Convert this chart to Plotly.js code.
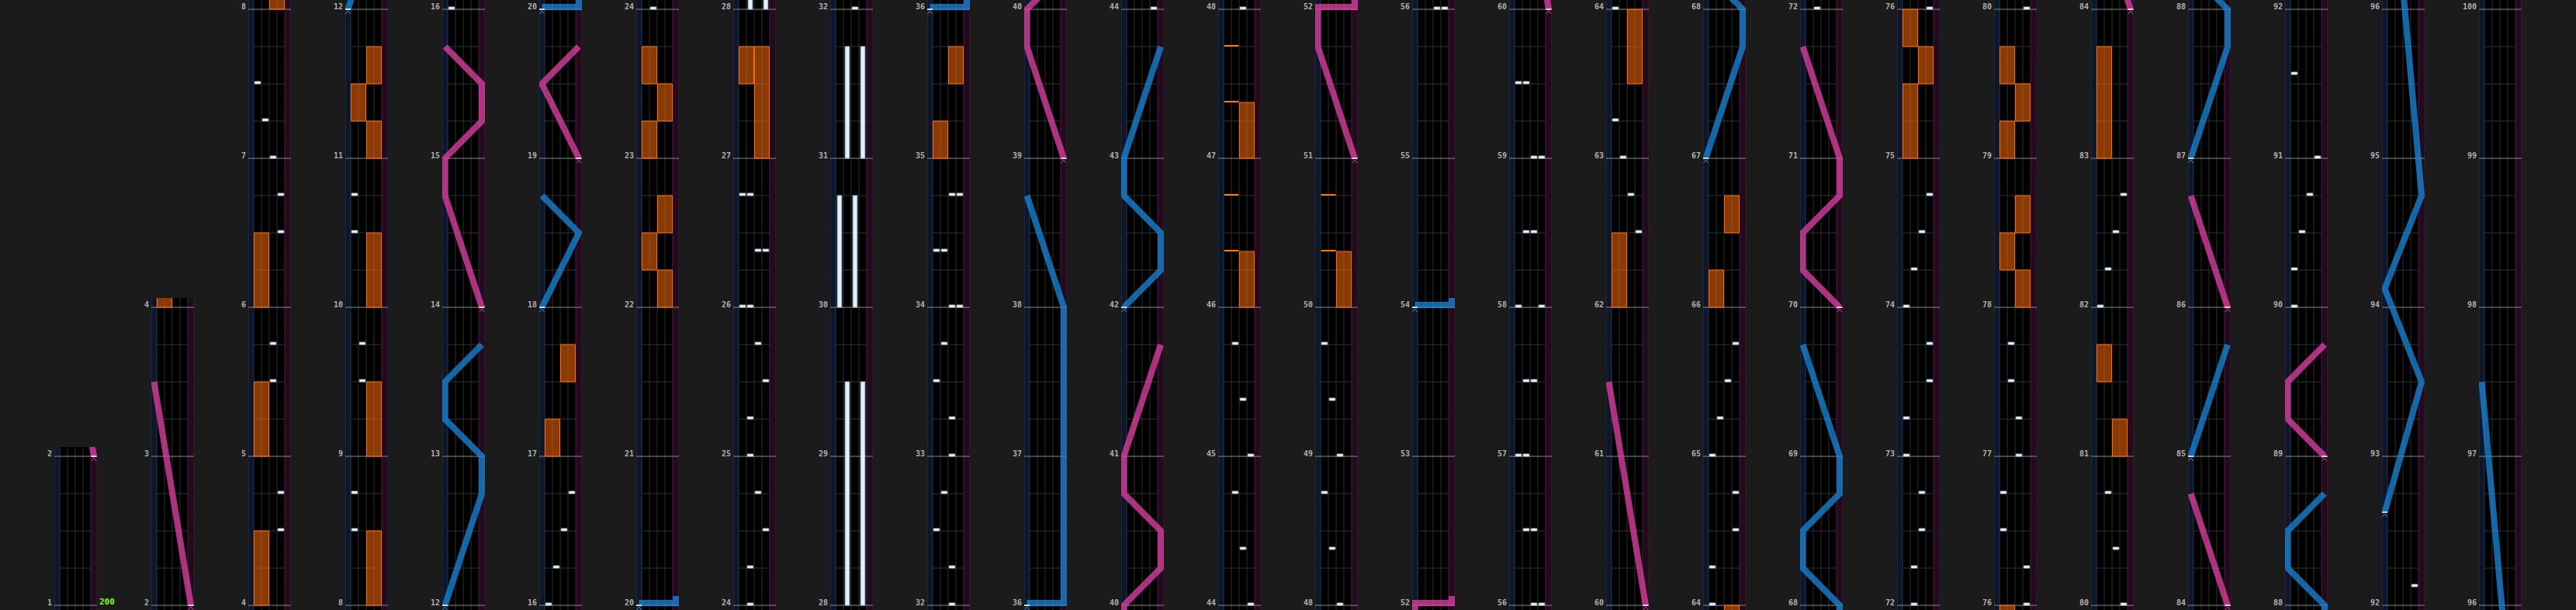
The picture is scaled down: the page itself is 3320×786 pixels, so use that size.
<!DOCTYPE html>
<html><head><meta charset="utf-8">
<script src="https://cdn.plot.ly/plotly-3.0.1.min.js"></script>
<style>html,body{margin:0;padding:0;background:#1b1b1b;overflow:hidden}</style>
</head><body><div id="chart" style="width:3320px;height:786px"></div>
<script>
// ---------------- chart data (positions in measures) ----------------
const columnStarts = [1,2,4,8,12,16,20,24,28,32,36,40,44,48,52,56,60,64,68,72,76,80,84,88,92,96];
const columnEnds   = [2,4,8,12,16,20,24,28,32,36,40,44,48,52,56,60,64,68,72,76,80,84,88,92,96,100];
const bpmMarks = [[1, '200']];

// BT chips: [measure, lane 0..3]
const btChips = [
 [4.5,3],[4.75,3],[5.5,2],[5.75,2],[6.5,3],[6.75,3],[7,2],[7.25,1],[7.5,0],
 [8.5,0],[8.75,0],[9.5,1],[9.75,1],[10.5,0],[10.75,0],
 [16,0],[16.25,1],[16.5,2],[16.75,3],
 [24,1],[24.25,1],[24.5,3],[24.75,2],[25,1],[25.25,1],[25.5,3],[25.75,2],
 [26,0],[26,1],[26.375,2],[26.375,3],[26.75,0],[26.75,1],
 [32,2],[32.25,2],[32.5,0],[32.75,1],[33,2],[33.25,2],[33.5,0],[33.75,1],
 [34,2],[34,3],[34.375,0],[34.375,1],[34.75,2],[34.75,3],
 [44,3],[44.375,2],[44.75,1],[45,3],[45.375,2],[45.75,1],
 [48,2],[48.375,1],[48.75,0],[49,2],[49.375,1],[49.75,0],
 [56,2],[56,3],[56.5,1],[56.5,2],[57,0],[57,1],[57.5,1],[57.5,2],[58,0],[58,3],
 [58.5,1],[58.5,2],[59,2],[59,3],[59.5,0],[59.5,1],
 [62.5,3],[62.75,2],[63,1],[63.25,0],[64,0],[64.25,0],[64.5,3],[64.75,3],
 [65,0],[65.25,1],[65.5,2],[65.75,3],
 [72,1],[72.25,1],[72.5,2],[72.75,2],[73,0],[73.25,0],[73.5,3],[73.75,3],
 [74,0],[74.25,1],[74.5,2],[74.75,3],
 [76,3],[76.25,3],[76.5,0],[76.75,0],[77,2],[77.25,2],[77.5,1],[77.75,1],
 [80,3],[80.375,2],[80.75,1],[82,0],[82.25,1],[82.5,2],[82.75,3],
 [90,0],[90.25,0],[90.5,1],[90.75,2],[91,3],[91.5625,0],[92.125,3]
];
// BT holds: [start, end, lane]
const btHolds = [[28,29.5,1],[28,29.5,3],[30,30.75,0],[30,30.75,2],[31,31.75,1],[31,31.75,3]];
// FX chips: [measure, side 0=L 1=R]
const fxChips = [[46.375,0],[46.75,0],[47.375,0],[47.75,0],[50.375,0],[50.75,0]];
// FX holds: [start, end, side]
const fxHolds = [
 [4,4.5,0],[5,5.5,0],[6,6.5,0],[8,8.5,1],[9,9.5,1],[10,10.5,1],[11,11.25,1],[11.25,11.5,0],[11.5,11.75,1],
 [17,17.25,0],[17.5,17.75,1],
 [22,22.25,1],[22.25,22.5,0],[22.5,22.75,1],[23,23.25,0],[23.25,23.5,1],[23.5,23.75,0],
 [27,27.75,1],[27.5,27.75,0],[35,35.25,0],[35.5,35.75,1],
 [46,46.375,1],[47,47.375,1],[50,50.375,1],
 [62,62.5,0],[63.5,64,1],[66,66.25,0],[66.5,66.75,1],
 [75,75.5,0],[75.5,75.75,1],[75.75,76,0],
 [78,78.25,1],[78.25,78.5,0],[78.5,78.75,1],[79,79.25,0],[79.25,79.5,1],[79.5,79.75,0],
 [81,81.25,1],[81.5,81.75,0],[83,83.75,0]
];
// Lasers: lists of [measure, position 0=left .. 1=right]
const leftLasers = [
 [[12,0],[12.75,1],[13,1],[13.25,0],[13.5,0],[13.75,1]],
 [[18,0],[18.5,1],[18.75,0]],
 [[20,0],[20,1],[20.0625,1]],
 [[36,0],[36,1],[38,1],[38.75,0]],
 [[42,0],[42.25,1],[42.5,1],[42.75,0],[43,0],[43.75,1]],
 [[54,0],[54,1],[54.0625,1]],
 [[67,0],[67.75,1],[68,1],[68.25,0],[68.5,0],[68.75,1],[69,1],[69.75,0]],
 [[85,0],[85.75,1]],
 [[87,0],[87.75,1],[88,1],[88.25,0],[88.5,0],[88.75,1]],
 [[92.625,0],[93.5,1],[94.125,0],[94.75,1],[97.5,0]]
];
const rightLasers = [
 [[2,1],[3.5,0]],
 [[14,1],[14.75,0],[15,0],[15.25,1],[15.5,1],[15.75,0]],
 [[19,1],[19.5,0],[19.75,1]],
 [[39,1],[39.75,0],[40,0],[40.25,1],[40.5,1],[40.75,0],[41,0],[41.75,1]],
 [[51,1],[51.75,0],[52,0],[52,1],[52.0625,1]],
 [[60,1],[61.5,0]],
 [[70,1],[70.25,0],[70.5,0],[70.75,1],[71,1],[71.75,0]],
 [[84,1],[84.75,0]],
 [[86,1],[86.75,0]],
 [[89,1],[89.25,0],[89.5,0],[89.75,1]]
];

// ---------------- rendering ----------------
const W = 3320, H = 786, PX = 1/192;
const LASER_X0 = -0.35, LASER_SPAN = 4.75;
const laserX = v => LASER_X0 + v*LASER_SPAN;
const data = [], shapes = [], annotations = [];
const layout = {width:W, height:H, margin:{l:0,r:0,t:0,b:0}, paper_bgcolor:'#1b1b1b',
  plot_bgcolor:'#1b1b1b', showlegend:false, shapes, annotations};

function rectInto(t, x0, x1, y0, y1){ t.x.push(x0,x1,x1,x0,x0,null); t.y.push(y0,y0,y1,y1,y0,null); }

for (let c = 0; c < columnStarts.length; c++) {
  const n = c === 0 ? '' : String(c+1);
  const xa = 'x'+n, ya = 'y'+n;
  const s = columnStarts[c], e = columnEnds[c];
  const ymin = s - 6*PX, ymax = e + 12*PX;
  const top = Math.min(1, (ymax-ymin)*192/H);
  layout['xaxis'+n] = {domain:[(70+125*c)/W, (125+125*c)/W], range:[-0.7,4.8], anchor:ya, visible:false, fixedrange:true};
  layout['yaxis'+n] = {domain:[0, top], range:[ymin, ymax], anchor:xa, visible:false, fixedrange:true};
  const inWin = (a,b) => b >= ymin - 0.01 && a <= ymax + 0.01;

  const R = (x0,x1,y0,y1,fill,line) => shapes.push({type:'rect', xref:xa, yref:ya, x0, x1, y0, y1,
      fillcolor:fill, line: line || {width:0}, layer:'below'});
  const L = (x0,x1,y0,y1,color,w) => shapes.push({type:'line', xref:xa, yref:ya, x0, x1, y0, y1,
      line:{color, width:w||1}, layer:'below'});
  R(0, 4, ymin-1, ymax+1, '#000000');
  R(-0.7, 0, ymin-1, ymax+1, '#0e1629', {color:'#1f3957', width:1});
  R(4, 4.8, ymin-1, ymax+1, '#220b1c', {color:'#4c1c40', width:1});
  for (let k = 1; k <= 3; k++) L(k, k, ymin-1, ymax+1, '#2e2e2e');
  for (let b = Math.ceil(ymin*4); b <= Math.floor(ymax*4); b++) {
    if (b % 4 !== 0) L(0, 4, b/4, b/4, '#333333');
  }
  for (let m = Math.ceil(ymin); m <= Math.floor(ymax); m++) {
    L(-0.7, 4.8, m, m, '#8a8a8a');
    if (m >= s && m <= e) annotations.push({xref:xa, yref:ya, x:-0.7, y:m, xanchor:'right', yanchor:'bottom',
      xshift:-1, yshift:-4, showarrow:false, text:'<b>'+m+'</b>',
      font:{family:'DejaVu Sans Mono', size:10, color:'#b0b0b0'}});
  }
  bpmMarks.forEach(([m, txt]) => {
    if (m >= s && m < e) annotations.push({xref:xa, yref:ya, x:4.8, y:m, xanchor:'left', yanchor:'bottom',
      xshift:1, yshift:-4, showarrow:false, text:'<b>'+txt+'</b>',
      font:{family:'DejaVu Sans Mono', size:11, color:'#7cff00'}});
  });

  const base = {type:'scatter', xaxis:xa, yaxis:ya, hoverinfo:'skip'};
  const fh = {...base, mode:'lines', fill:'toself', fillcolor:'rgba(255,108,10,0.54)', line:{color:'#ff6a00', width:1}, x:[], y:[]};
  fxHolds.forEach(([a,b,sd]) => { if (inWin(a,b)) rectInto(fh, sd*2+0.05, sd*2+1.95, a, b); });
  const fc = {...base, mode:'lines', fill:'toself', fillcolor:'#ff7a00', line:{width:0}, x:[], y:[]};
  fxChips.forEach(([p,sd]) => { if (inWin(p,p)) rectInto(fc, sd*2+0.05, sd*2+1.95, p, p+2*PX); });
  const bh = {...base, mode:'lines', fill:'toself', fillcolor:'#e4f2f8', line:{color:'#94bccf', width:1}, x:[], y:[]};
  btHolds.forEach(([a,b,l]) => { if (inWin(a,b)) rectInto(bh, l+0.22, l+0.78, a, b); });
  const bc = {...base, mode:'lines', fill:'toself', fillcolor:'#ffffff', line:{color:'#9dbfd2', width:1}, x:[], y:[]};
  btChips.forEach(([p,l]) => { if (inWin(p,p)) rectInto(bc, l+0.12, l+0.88, p, p+3*PX); });
  [fh, fc, bh, bc].forEach(t => { if (t.x.length) data.push(t); });

  [[leftLasers, 'rgba(24,138,222,0.75)', '#3a8fc8'], [rightLasers, 'rgba(226,64,166,0.76)', '#c24a98']].forEach(([set, col, mk]) => {
    const t = {...base, mode:'lines', line:{color:col, width:8}, x:[], y:[]};
    const tick = {...base, mode:'lines', line:{color:'#ffffff', width:1.5}, x:[], y:[]};
    const chev = {...base, mode:'lines', line:{color:mk, width:1}, x:[], y:[]};
    set.forEach(pts => {
      const a = pts[0][0], b = pts[pts.length-1][0];
      if (!inWin(a, b)) return;
      pts.forEach(([m, v], i) => {
        const slam = (i > 0 && pts[i-1][0] === m) || (i < pts.length-1 && pts[i+1][0] === m);
        t.x.push(laserX(v)); t.y.push(slam ? m + 3*PX : m);
      });
      t.x.push(null); t.y.push(null);
      const X = laserX(pts[0][1]), y0 = pts[0][0];
      tick.x.push(X-0.35, X+0.35, null); tick.y.push(y0, y0, null);
      chev.x.push(X-0.3, X, X+0.3, null); chev.y.push(y0-6*PX, y0-2*PX, y0-6*PX, null);
    });
    if (t.x.length) { data.push(t); data.push(tick); data.push(chev); }
  });
}

Plotly.newPlot('chart', data, layout, {staticPlot:true});
</script></body></html>
